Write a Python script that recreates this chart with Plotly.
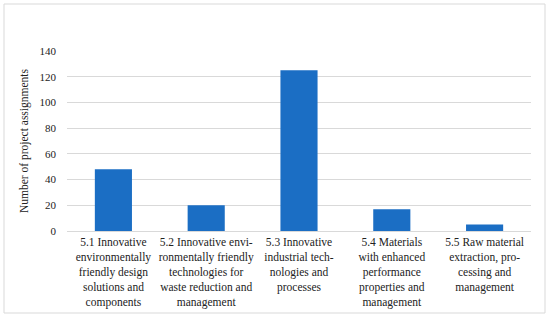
import plotly.graph_objects as go

categories = [
    "5.1 Innovative<br>environmentally<br>friendly design<br>solutions and<br>components",
    "5.2 Innovative envi-<br>ronmentally friendly<br>technologies for<br>waste reduction and<br>management",
    "5.3 Innovative<br>industrial tech-<br>nologies and<br>processes",
    "5.4 Materials<br>with enhanced<br>performance<br>properties and<br>management",
    "5.5 Raw material<br>extraction, pro-<br>cessing and<br>management",
]
values = [48, 20, 125, 17, 5]
y_ticks = [0, 20, 40, 60, 80, 100, 120, 140]
y_title = "Number of project assignments"

FONT = "Liberation Serif"
BAR = "#1B6EC4"
GRID = "#D9D9D9"

fig = go.Figure(go.Bar(x=categories, y=values, marker=dict(color=BAR, line=dict(width=0)), width=0.4))

L, R, T, B = 67, 19, 51, 89
W, H = 550, 320
pw, ph = W - L - R, H - T - B

fig.update_layout(
    width=W, height=H,
    margin=dict(l=L, r=R, t=T, b=B),
    paper_bgcolor="white", plot_bgcolor="white",
    font=dict(family=FONT, size=11, color="#222"),
    showlegend=False,
    xaxis=dict(showgrid=False, showline=True, linecolor=GRID, linewidth=1, automargin=False,
               ticks="", tickfont=dict(family=FONT, size=11.5, color="#222"), tickangle=0),
    yaxis=dict(range=[0, 140], tickvals=y_ticks, showgrid=True, gridcolor=GRID, gridwidth=1,
               zeroline=False, showline=False, ticks="", ticklabelstandoff=10, automargin=False,
               tickfont=dict(family=FONT, size=11, color="#222"),
               title=dict(text=y_title, font=dict(family=FONT, size=11.5, color="#222"), standoff=8)),
    shapes=[dict(type="rect", xref="paper", yref="paper",
                 x0=(4 - L) / pw, x1=(545 - L) / pw,
                 y0=(H - B - 313) / ph, y1=(H - B - 4) / ph,
                 line=dict(color=GRID, width=1), fillcolor="rgba(0,0,0,0)", layer="below")],
)

fig.write_html("out.html", config={"displayModeBar": False},
               post_script="document.body.style.margin='0';")
